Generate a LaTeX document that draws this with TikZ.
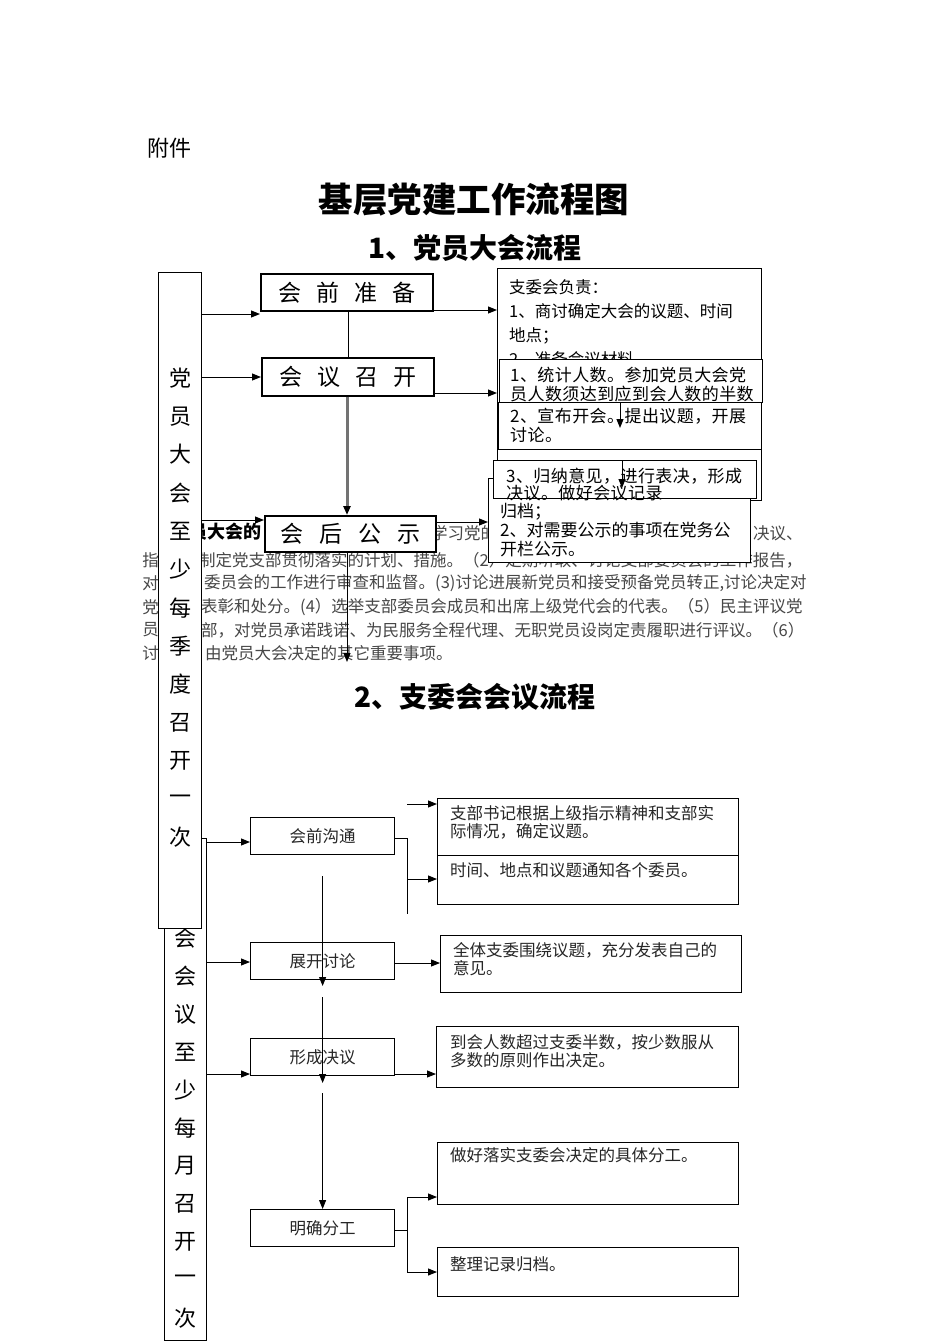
\documentclass[tikz,border=0pt]{standalone}
\usepackage{fontspec}
\setmainfont{Noto Sans CJK SC}
\usetikzlibrary{arrows.meta}
\XeTeXlinebreaklocale "zh"
\XeTeXlinebreakskip=0pt plus 4pt
\newcommand\fsz[2]{\fontsize{#1pt}{#2pt}\selectfont}
\newcommand\jline[2]{\makebox[#1pt][s]{#2}}
\begin{document}
\begin{tikzpicture}[x=1pt,y=-1pt,
    box/.style={draw,line width=1.3pt,fill=white,inner sep=0pt,anchor=north west},
    bigbox/.style={box,line width=1.5pt,font=\fsz{23}{23}},
    smallbox/.style={box,line width=1.2pt,font=\fsz{16.5}{17.5},text=black!85},
    txt/.style={anchor=west,inner sep=0pt,align=left},
    wide/.style={txt,font=\fsz{17}{#1}\addfontfeature{LetterSpace=2.5}},
    para/.style={anchor=west,inner sep=0pt,font=\fsz{16.5}{16.5},text=black!72},
    vchar/.style={inner sep=0pt,font=\fsz{22}{22}},
    arr/.style={-{Triangle[length=9pt,width=7pt]},line width=1pt},
    plain/.style={line width=1pt}]
  \useasboundingbox[fill=white] (0,0) rectangle (950,1344);

  % headings
  \node[anchor=west,inner sep=0pt,font=\fsz{22}{22}] (annex) at (147,148) {附件};
  \node[inner sep=0pt,font=\fsz{34.5}{34.5}\bfseries] (title) at (474,200) {基层党建工作流程图};
  \node[inner sep=0pt,font=\fsz{28}{28}\bfseries] (head1) at (475,248) {1、党员大会流程};
  \node[inner sep=0pt,font=\fsz{28}{28}\bfseries] (head2) at (475,697) {2、支委会会议流程};

  % text behind the first chart
  \node[anchor=east,inner sep=0pt,font=\fsz{18}{18}\bfseries] (p1a) at (262,532) {员大会的};
  \node[para] (p1b) at (431,533) {学习党的};
  \node[para] (p1c) at (753,533) {决议、};
  \node[para,anchor=east] (p2l) at (159,560.5) {指};
  \node[para] (p2r) at (199,560.5) {\jline{607}{制定党支部贯彻落实的计划、措施。（2）定期听取、讨论支部委员会的工作报告，}};
  \node[para,anchor=east] (p3l) at (159,583.5) {对};
  \node[para] (p3r) at (204,583.5) {\jline{602}{委员会的工作进行审查和监督。(3)讨论进展新党员和接受预备党员转正,讨论决定对}};
  \node[para,anchor=east] (p4l) at (159,607) {党};
  \node[para] (p4r) at (201,607) {\jline{605}{表彰和处分。(4）选举支部委员会成员和出席上级党代会的代表。（5）民主评议党}};
  \node[para,anchor=east] (p5l) at (159,630) {员};
  \node[para] (p5r) at (201,630) {\jline{605}{部，对党员承诺践诺、为民服务全程代理、无职党员设岗定责履职进行评议。（6）}};
  \node[para,anchor=east] (p6l) at (159,653) {讨};
  \node[para] (p6r) at (205,653) {由党员大会决定的其它重要事项。};

  % the two tall boxes on the left
  \node[box,line width=1.2pt,minimum width=42pt,minimum height=502pt] (v2) at (164,838) {};
  \foreach \ch [count=\i from 0] in {支,委,会,会,议,至,少,每,月,召,开,一,次}
    \node[vchar] (vb\i) at (185,862+38*\i) {\ch};
  \node[box,line width=1.3pt,minimum width=43pt,minimum height=656pt] (v1) at (158,272) {};
  \foreach \ch [count=\i from 0] in {党,员,大,会,至,少,每,季,度,召,开,一,次}
    \node[vchar] (va\i) at (180,378+38.3*\i) {\ch};

  % first chart: notes on the right
  \node[box,minimum width=264pt,minimum height=232pt] (A) at (497,268) {};
  \node[txt,font=\fsz{16.5}{24}] (Atext) at (509,323)
    {支委会负责：\\1、商讨确定大会的议题、时间\\地点；\\2、准备会议材料};
  \node[box,minimum width=263pt,minimum height=43pt] (B) at (499,359) {};
  \node[wide=19] (Btext) at (510,384.5)
    {1、统计人数。参加党员大会党\\员人数须达到应到会人数的半数};
  \node[box,minimum width=263pt,minimum height=47pt] (C) at (498,402) {};
  \node[wide=19] (Ctext) at (510,425.5)
    {2、宣布开会。提出议题，开展\\讨论。};
  \node[box,minimum width=262pt,minimum height=84pt] (E) at (488,478) {};
  \node[txt,font=\fsz{17}{18.75}] (Etext) at (500,530)
    {归档；\\2、对需要公示的事项在党务公\\开栏公示。};
  \node[box,minimum width=263pt,minimum height=38pt] (D) at (493,460) {};
  \node[wide=17] (Dtext) at (506,484.5)
    {3、归纳意见，进行表决，形成\\决议。做好会议记录};

  % first chart: steps
  \node[bigbox,minimum width=172pt,minimum height=37pt] (prep) at (260,273)
    {会\hspace{15pt}前\hspace{15pt}准\hspace{15pt}备};
  \node[bigbox,minimum width=172pt,minimum height=38pt] (hold) at (261,357)
    {会\hspace{15pt}议\hspace{15pt}召\hspace{15pt}开};
  \node[bigbox,minimum width=171pt,minimum height=36pt] (post) at (264,515)
    {会\hspace{16pt}后\hspace{16pt}公\hspace{16pt}示};

  \draw[arr] (v1.east |- 0,314) -- (prep.west |- 0,314);
  \draw[arr] (v1.east |- 0,377) -- (hold.west |- 0,377);
  \draw[arr] (v1.east |- 0,520) -- (post.west |- 0,520);
  \draw[plain] (prep.south -| 348,0) -- (hold.north -| 348,0);
  \draw[-{Triangle[length=9pt,width=7pt,fill=black,color=black]},line width=3pt,black!55]
    (hold.south -| 347,0) -- (post.north -| 347,0);
  \coordinate (pend) at (347,662);
  \draw[arr] (post.south -| 347,0) -- (pend);
  \draw[arr] (prep.east |- 0,310) -- (A.west |- 0,310);
  \draw[arr] (hold.east |- 0,393) -- (A.west |- 0,393);
  \draw[arr] (post.east |- 0,522) -- (E.west |- 0,522);
  \coordinate (c1) at (620,428);
  \coordinate (c2) at (622,488);
  \draw[arr] (C.north -| c1) -- (c1);
  \draw[arr] (D.north -| c2) -- (c2);

  % second chart
  \node[smallbox,minimum width=144pt,minimum height=37pt] (s1) at (250,817) {会前沟通};
  \node[smallbox,minimum width=144pt,minimum height=37pt] (s2) at (250,942) {展开讨论};
  \node[smallbox,minimum width=144pt,minimum height=37pt] (s3) at (250,1038) {形成决议};
  \node[smallbox,minimum width=144pt,minimum height=37pt] (s4) at (250,1209) {明确分工};

  \node[smallbox,minimum width=301pt,minimum height=57pt] (r1) at (437,798) {};
  \node[smallbox,minimum width=301pt,minimum height=49pt] (r2) at (437,855) {};
  \node[smallbox,minimum width=301pt,minimum height=57pt] (r3) at (440,935) {};
  \node[smallbox,minimum width=302pt,minimum height=61pt] (r4) at (436,1026) {};
  \node[smallbox,minimum width=301pt,minimum height=62pt] (r5) at (437,1142) {};
  \node[smallbox,minimum width=301pt,minimum height=49pt] (r6) at (437,1247) {};
  \begin{scope}[every node/.style={txt,font=\fsz{16.5}{18},text=black!85}]
    \node (r1text) at (450,822) {支部书记根据上级指示精神和支部实\\际情况，确定议题。};
    \node (r2text) at (450,870) {时间、地点和议题通知各个委员。};
    \node (r3text) at (453,959.5) {全体支委围绕议题，充分发表自己的\\意见。};
    \node (r4text) at (450,1051) {到会人数超过支委半数，按少数服从\\多数的原则作出决定。};
    \node (r5text) at (450,1155) {做好落实支委会决定的具体分工。};
    \node (r6text) at (450,1264) {整理记录归档。};
  \end{scope}

  \draw[arr] (v2.east |- 0,842) -- (s1.west |- 0,842);
  \draw[arr] (v2.east |- 0,962) -- (s2.west |- 0,962);
  \draw[arr] (v2.east |- 0,1074) -- (s3.west |- 0,1074);
  \coordinate (bus1) at (407,838);
  \coordinate (bus2) at (407,1230);
  \draw[plain] (s1.east |- bus1) -- (bus1) -- (407,914);
  \draw[arr] (407,879) -- (r2.west |- 0,879);
  \draw[arr] (407,804) -- (r1.west |- 0,804);
  \draw[arr] (s1.south |- 0,876) -- (s2.south |- 0,986);
  \draw[arr] (s2.south |- 0,997) -- (s3.south |- 0,1083);
  \draw[arr] (s3.south |- 0,1093) -- (s4.north);
  \draw[arr] (s2.east |- 0,963) -- (r3.west |- 0,963);
  \draw[arr] (s3.east |- 0,1074) -- (r4.west |- 0,1074);
  \draw[plain] (s4.east |- bus2) -- (bus2);
  \draw[arr] (bus2) |- (r5.west |- 0,1197);
  \draw[arr] (bus2) |- (r6.west |- 0,1272);
\end{tikzpicture}
\end{document}
